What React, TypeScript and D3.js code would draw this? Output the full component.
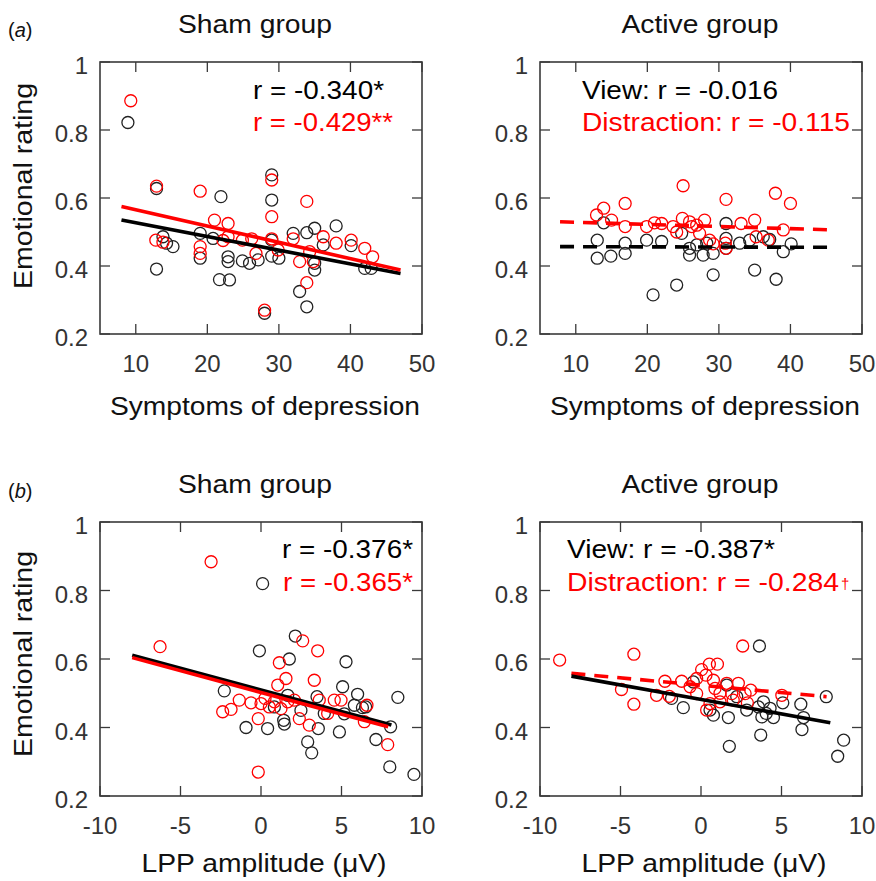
import React from "react";
import * as d3 from "d3";

const W = 876;
const H = 881;
const FONT = "'Liberation Sans', Arial, sans-serif";
const RED = "#ff0000";
const INK = "#111";
const AXIS = "#3a3a3a";

// (a) symptoms of depression vs emotional rating
const shamDepView: [number, number][] = [
  [8.9, 0.822], [12.9, 0.628], [12.9, 0.391], [13.8, 0.486], [14.3, 0.467], [15.2, 0.457],
  [19, 0.496], [19, 0.423], [20.8, 0.481], [21.9, 0.604], [21.7, 0.36], [23.1, 0.359],
  [22.9, 0.427], [22.9, 0.413], [24.9, 0.415], [25.9, 0.408], [27.1, 0.418], [28, 0.261],
  [29, 0.668], [29, 0.594], [29, 0.476], [29, 0.429], [30, 0.423], [32, 0.496],
  [32.9, 0.325], [33.9, 0.498], [33.9, 0.28], [35, 0.511], [35, 0.388], [35, 0.408],
  [36.2, 0.462], [38, 0.518], [40.1, 0.46], [42, 0.393], [42.9, 0.393],
];
const shamDepDistr: [number, number][] = [
  [9.3, 0.886], [12.9, 0.635], [12.8, 0.476], [13.8, 0.47], [19, 0.62], [19, 0.457],
  [19, 0.437], [21, 0.535], [22.9, 0.525], [22.9, 0.486], [22.2, 0.475], [24.9, 0.476],
  [26.2, 0.48], [26.8, 0.437], [28, 0.27], [29, 0.653], [29, 0.545], [29, 0.48],
  [29.9, 0.447], [32, 0.48], [32.9, 0.413], [33.9, 0.59], [33.9, 0.351], [34.8, 0.413],
  [34.3, 0.442], [36.2, 0.486], [38, 0.467], [40.1, 0.476], [42, 0.452], [43.1, 0.427],
];
const activeDepView: [number, number][] = [
  [13, 0.476], [13, 0.423], [13.9, 0.527], [14.9, 0.429], [16.9, 0.467], [16.9, 0.437],
  [19.9, 0.476], [20.8, 0.315], [22, 0.472], [24.1, 0.344], [24.8, 0.496], [25.9, 0.452],
  [25.9, 0.432], [26.9, 0.462], [27.8, 0.432], [28.3, 0.467], [29.2, 0.437], [29.2, 0.374],
  [31, 0.525], [31, 0.481], [31, 0.452], [32.9, 0.467], [34.3, 0.476], [35, 0.388],
  [36.2, 0.486], [37.1, 0.478], [38, 0.361], [39, 0.442], [40.1, 0.465],
];
const activeDepDistr: [number, number][] = [
  [12.9, 0.55], [13.9, 0.57], [15, 0.535], [16.9, 0.584], [16.9, 0.516], [19.9, 0.516],
  [21, 0.527], [22, 0.525], [23.6, 0.516], [24.1, 0.5], [25, 0.636], [24.9, 0.54],
  [25.9, 0.53], [26.2, 0.516], [26.9, 0.52], [27.3, 0.496], [28, 0.535], [28.7, 0.476],
  [29.2, 0.465], [31, 0.596], [30.9, 0.467], [31, 0.452], [33.1, 0.525], [35, 0.535],
  [35.2, 0.486], [36.9, 0.476], [37.9, 0.614], [40, 0.584], [39, 0.506],
];

// (b) LPP amplitude vs emotional rating
const shamLppView: [number, number][] = [
  [0.1, 0.82], [-2.28, 0.507], [-0.93, 0.4], [-0.1, 0.624], [0.41, 0.397], [0.83, 0.46],
  [1.41, 0.421], [1.45, 0.41], [1.66, 0.494], [1.76, 0.6], [2.13, 0.667], [2.48, 0.45],
  [2.9, 0.358], [3.15, 0.326], [3.48, 0.49], [3.56, 0.397], [3.93, 0.441], [4.87, 0.387],
  [5.07, 0.519], [5.28, 0.592], [5.17, 0.44], [6.0, 0.497], [5.8, 0.465], [6.3, 0.458],
  [6.5, 0.46], [7.14, 0.365], [8.05, 0.402], [8.5, 0.488], [8.0, 0.285], [9.5, 0.263],
];
const shamLppDistr: [number, number][] = [
  [-3.1, 0.884], [-6.27, 0.636], [-2.38, 0.446], [-1.86, 0.453], [-1.35, 0.48], [-0.62, 0.472],
  [-0.17, 0.426], [-0.17, 0.27], [0.0, 0.47], [0.25, 0.485], [0.52, 0.46], [0.83, 0.475],
  [1.14, 0.589], [1.04, 0.524], [1.24, 0.455], [1.55, 0.543], [1.66, 0.475], [2.07, 0.48],
  [2.38, 0.426], [2.59, 0.653], [3.0, 0.407], [3.31, 0.538], [3.52, 0.624], [3.62, 0.48],
  [4.14, 0.441], [4.55, 0.48], [4.97, 0.48], [6.42, 0.417], [6.58, 0.465], [7.87, 0.35],
];
const activeLppView: [number, number][] = [
  [-1.83, 0.485], [-1.1, 0.458], [-0.48, 0.533], [0.56, 0.451], [0.77, 0.436], [1.7, 0.429],
  [1.76, 0.345], [1.6, 0.524], [2.22, 0.49], [2.84, 0.451], [3.63, 0.638], [3.71, 0.378],
  [3.57, 0.46], [3.88, 0.475], [4.05, 0.441], [4.29, 0.456], [4.5, 0.429], [3.78, 0.431],
  [5.08, 0.472], [6.2, 0.468], [6.27, 0.394], [6.37, 0.429], [7.78, 0.49], [8.49, 0.316],
  [8.86, 0.363],
];
const activeLppDistr: [number, number][] = [
  [-8.78, 0.597], [-4.17, 0.614], [-4.17, 0.468], [-4.94, 0.511], [-2.76, 0.494], [-2.24, 0.535],
  [-1.97, 0.491], [-1.2, 0.535], [-0.68, 0.519], [-0.27, 0.543], [-0.27, 0.499], [0.04, 0.569],
  [0.31, 0.553], [0.52, 0.585], [1.02, 0.585], [0.77, 0.538], [0.87, 0.514], [0.35, 0.451],
  [0.56, 0.47], [1.18, 0.475], [1.18, 0.5], [1.6, 0.529], [1.91, 0.499], [2.0, 0.48],
  [2.32, 0.529], [2.59, 0.638], [2.74, 0.499], [3.09, 0.509], [2.88, 0.472], [5.02, 0.494],
];

// fitted lines [x0, y0, x1, y1]
const shamDepFitView = [8, 0.535, 47, 0.378];
const shamDepFitDistr = [8, 0.575, 47, 0.388];
const activeDepFitView = [7.8, 0.457, 46.2, 0.455];
const activeDepFitDistr = [7.8, 0.53, 46.2, 0.506];
const shamLppFitView = [-8, 0.611, 8.1, 0.407];
const shamLppFitDistr = [-8, 0.604, 7.9, 0.402];
const activeLppFitView = [-8.05, 0.55, 8.03, 0.414];
const activeLppFitDistr = [-8.05, 0.558, 7.8, 0.49];

const depTicks = [10, 20, 30, 40, 50];
const lppTicks = [-10, -5, 0, 5, 10];
const yTicks = [0.2, 0.4, 0.6, 0.8, 1];

type Label = { text: string; color: string; dx: number; dy: number; len: number; dagger?: boolean };

type PanelProps = {
  left: number;
  top: number;
  width: number;
  height: number;
  xDomain: [number, number];
  xTicks: number[];
  view: [number, number][];
  distr: [number, number][];
  fitView: number[];
  fitDistr: number[];
  dashView: boolean;
  dashDistr: boolean;
  labels: Label[];
};

const Panel = ({ left, top, width, height, xDomain, xTicks, view, distr, fitView, fitDistr, dashView, dashDistr, labels }: PanelProps) => {
  const x = d3.scaleLinear().domain(xDomain).range([left, left + width]);
  const y = d3.scaleLinear().domain([0.2, 1]).range([top + height, top]);
  const line = d3.line<[number, number]>().x((d) => x(d[0])).y((d) => y(d[1]));
  const fitPath = (f: number[]) => line([[f[0], f[1]], [f[2], f[3]]]) || "";
  const tl = 10;

  return (
    <g>
      {view.map((d, i) => (
        <circle key={"v" + i} cx={x(d[0])} cy={y(d[1])} r={6} fill="none" stroke="#222" strokeWidth={1.3} />
      ))}
      {distr.map((d, i) => (
        <circle key={"d" + i} cx={x(d[0])} cy={y(d[1])} r={6} fill="none" stroke={RED} strokeWidth={1.3} />
      ))}
      {dashView ? (
        <>
          <path d={fitPath(fitDistr)} stroke={RED} strokeWidth={3.6} fill="none" strokeDasharray={dashDistr ? "14 9" : undefined} />
          <path d={fitPath(fitView)} stroke="#000" strokeWidth={3.6} fill="none" strokeDasharray="14 9" />
        </>
      ) : (
        <>
          {dashDistr && <path d={fitPath(fitDistr)} stroke={RED} strokeWidth={3.6} fill="none" strokeDasharray="14 9" />}
          <path d={fitPath(fitView)} stroke="#000" strokeWidth={3.6} fill="none" />
          {!dashDistr && <path d={fitPath(fitDistr)} stroke={RED} strokeWidth={3.6} fill="none" />}
        </>
      )}
      <rect x={left} y={top} width={width} height={height} fill="none" stroke={AXIS} strokeWidth={1.6} />
      {xTicks.map((t) => (
        <g key={"x" + t}>
          <line x1={x(t)} x2={x(t)} y1={top + height} y2={top + height - tl} stroke={AXIS} strokeWidth={1.3} />
          <line x1={x(t)} x2={x(t)} y1={top} y2={top + tl} stroke={AXIS} strokeWidth={1.3} />
          <text x={x(t)} y={top + height + 38} textAnchor="middle" fontSize={24} fill="#333" fontFamily={FONT}>
            {String(t)}
          </text>
        </g>
      ))}
      {yTicks.map((t) => (
        <g key={"y" + t}>
          <line x1={left} x2={left + tl} y1={y(t)} y2={y(t)} stroke={AXIS} strokeWidth={1.3} />
          <line x1={left + width} x2={left + width - tl} y1={y(t)} y2={y(t)} stroke={AXIS} strokeWidth={1.3} />
          <text x={left - 12} y={y(t) + 12} textAnchor="end" fontSize={24} fill="#333" fontFamily={FONT}>
            {String(t)}
          </text>
        </g>
      ))}
      {labels.map((l, i) => (
        <g key={"l" + i}>
          <text x={left + l.dx} y={top + l.dy} fontSize={25} fill={l.color} fontFamily={FONT} textLength={l.len} lengthAdjust="spacingAndGlyphs">
            {l.text}
          </text>
          {l.dagger && (
            <text x={left + l.dx + l.len + 2} y={top + l.dy - 2} fontSize={15} fill={l.color} fontFamily={FONT}>
              †
            </text>
          )}
        </g>
      ))}
    </g>
  );
};

const App = () => {
  const pw = 322;
  const txt = (x: number, y: number, s: string, len: number, size = 25) => (
    <text x={x} y={y} textAnchor="middle" fontSize={size} fill={INK} fontFamily={FONT} textLength={len} lengthAdjust="spacingAndGlyphs">
      {s}
    </text>
  );
  const yLabel = (cy: number) => (
    <text transform={`translate(32, ${cy}) rotate(-90)`} textAnchor="middle" fontSize={25} fill={INK} fontFamily={FONT} textLength={206} lengthAdjust="spacingAndGlyphs">
      Emotional rating
    </text>
  );

  return (
    <svg width={W} height={H} style={{ position: "absolute", left: 0, top: 0, background: "#fff" }}>
      <rect width={W} height={H} fill="#fff" />
      {/* (a) */}
      <text x={8} y={37} fontSize={20} fill={INK} fontFamily={FONT}>
        (<tspan fontStyle="italic">a</tspan>)
      </text>
      {txt(255, 33, "Sham group", 154)}
      {txt(700, 33, "Active group", 157)}
      {yLabel(186)}
      <Panel
        left={100} top={62} width={pw} height={272}
        xDomain={[5, 50]} xTicks={depTicks}
        view={shamDepView} distr={shamDepDistr}
        fitView={shamDepFitView} fitDistr={shamDepFitDistr}
        dashView={false} dashDistr={false}
        labels={[
          { text: "r = -0.340*", color: "#000", dx: 153, dy: 37, len: 131 },
          { text: "r = -0.429**", color: RED, dx: 153, dy: 69, len: 140 },
        ]}
      />
      <Panel
        left={540} top={62} width={pw} height={272}
        xDomain={[5, 50]} xTicks={depTicks}
        view={activeDepView} distr={activeDepDistr}
        fitView={activeDepFitView} fitDistr={activeDepFitDistr}
        dashView={true} dashDistr={true}
        labels={[
          { text: "View: r = -0.016", color: "#000", dx: 42, dy: 37, len: 196 },
          { text: "Distraction: r = -0.115", color: RED, dx: 42, dy: 69, len: 268 },
        ]}
      />
      {txt(265, 415, "Symptoms of depression", 310)}
      {txt(705, 415, "Symptoms of depression", 310)}

      {/* (b) */}
      <text x={8} y={498} fontSize={20} fill={INK} fontFamily={FONT}>
        (<tspan fontStyle="italic">b</tspan>)
      </text>
      {txt(255, 493, "Sham group", 154)}
      {txt(700, 493, "Active group", 157)}
      {yLabel(654)}
      <Panel
        left={100} top={522} width={pw} height={274}
        xDomain={[-10, 10]} xTicks={lppTicks}
        view={shamLppView} distr={shamLppDistr}
        fitView={shamLppFitView} fitDistr={shamLppFitDistr}
        dashView={false} dashDistr={false}
        labels={[
          { text: "r = -0.376*", color: "#000", dx: 182, dy: 36, len: 131 },
          { text: "r = -0.365*", color: RED, dx: 183, dy: 69, len: 130 },
        ]}
      />
      <Panel
        left={540} top={522} width={pw} height={274}
        xDomain={[-10, 10]} xTicks={lppTicks}
        view={activeLppView} distr={activeLppDistr}
        fitView={activeLppFitView} fitDistr={activeLppFitDistr}
        dashView={false} dashDistr={true}
        labels={[
          { text: "View: r = -0.387*", color: "#000", dx: 27, dy: 36, len: 208 },
          { text: "Distraction: r = -0.284", color: RED, dx: 27, dy: 69, len: 272, dagger: true },
        ]}
      />
      {txt(264, 872, "LPP amplitude (\u03bcV)", 245)}
      {txt(704, 872, "LPP amplitude (\u03bcV)", 245)}
    </svg>
  );
};

export default App;
